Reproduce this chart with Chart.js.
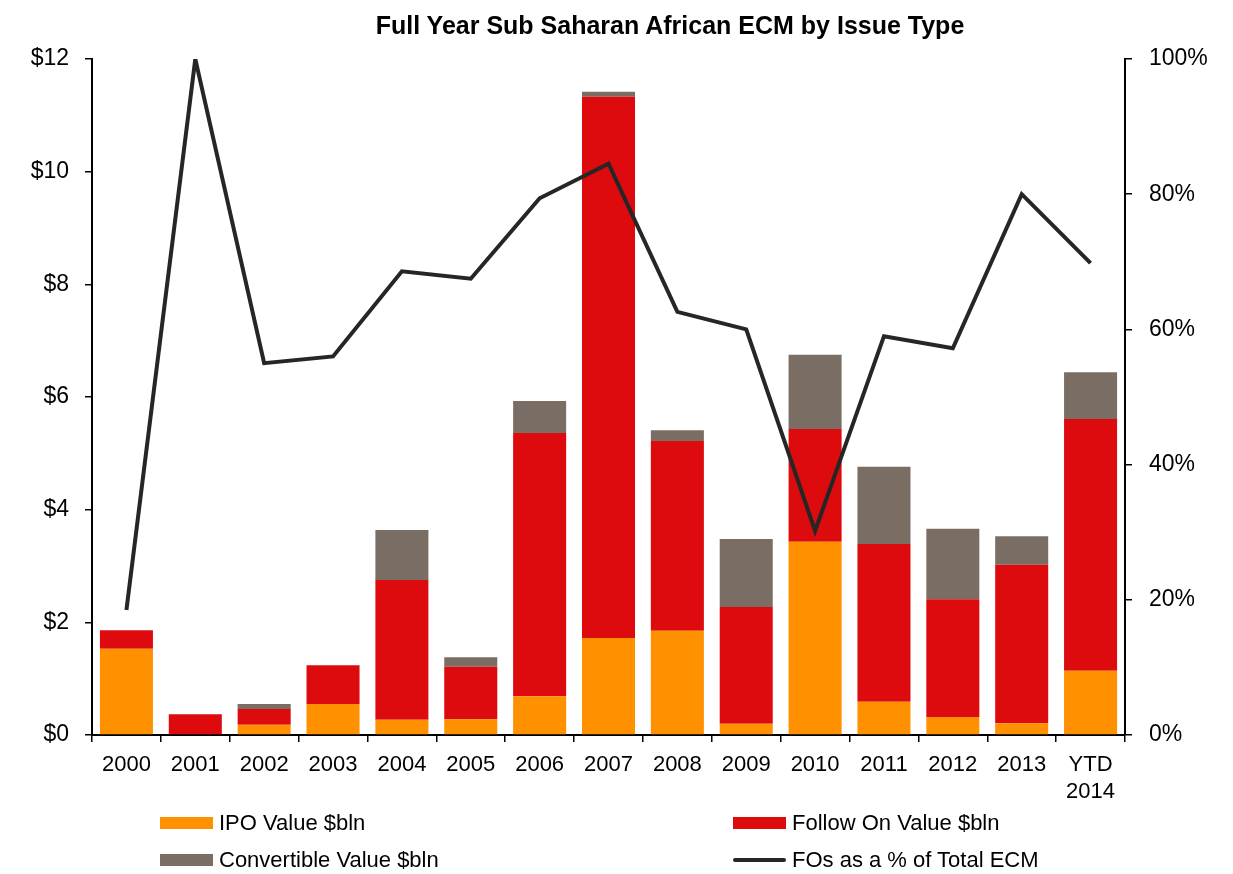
<!DOCTYPE html>
<html>
<head>
<meta charset="utf-8">
<script src="https://cdn.jsdelivr.net/npm/chart.js@4/dist/chart.umd.min.js"></script>
<style>
  body { margin: 0; background: #fff; font-family: "Liberation Sans", Arial, sans-serif; }
  #wrap { position: relative; width: 1233px; height: 874px; }
  #titulo { position: absolute; top: 11px; left: 0; width: 1340px; text-align: center; font-weight: bold; font-size: 25px; color: #000; }
  .ley { position: absolute; font-size: 22px; color: #000; display: flex; align-items: center; }
  .ley span.sw { display: inline-block; width: 53px; height: 12px; margin-right: 6px; }
  .ley span.ln { display: inline-block; width: 53px; height: 4px; margin-right: 6px; background: #262626; border-radius: 2px; }
</style>
</head>
<body>
<div id="wrap">
  <canvas id="grafico" width="1233" height="874"></canvas>
  <div id="titulo">Full Year Sub Saharan African ECM by Issue Type</div>
  <div class="ley" style="left:160px; top:810px;"><span class="sw" style="background:#FF9000"></span>IPO Value $bln</div>
  <div class="ley" style="left:733px; top:810px;"><span class="sw" style="background:#DD0A0E"></span>Follow On Value $bln</div>
  <div class="ley" style="left:160px; top:847px;"><span class="sw" style="background:#7A6E64"></span>Convertible Value $bln</div>
  <div class="ley" style="left:733px; top:847px;"><span class="ln"></span>FOs as a % of Total ECM</div>
</div>
<script>
// datos
const anios = ["2000", "2001", "2002", "2003", "2004", "2005", "2006", "2007", "2008", "2009", "2010", "2011", "2012", "2013", ["YTD", "2014"]];
const ipo = [1.53, 0.0, 0.18, 0.55, 0.27, 0.28, 0.69, 1.72, 1.85, 0.20, 3.43, 0.59, 0.32, 0.21, 1.14];
const followOn = [0.33, 0.37, 0.28, 0.69, 2.48, 0.93, 4.67, 9.61, 3.37, 2.07, 2.00, 2.80, 2.09, 2.81, 4.47];
const convertible = [0.0, 0.0, 0.09, 0.0, 0.89, 0.17, 0.57, 0.09, 0.19, 1.21, 1.32, 1.37, 1.25, 0.51, 0.83];
const porcentajeFO = [18.5, 100, 55, 56, 68.6, 67.5, 79.4, 84.5, 62.6, 60, 30.2, 59, 57.2, 80, 69.8];

Chart.defaults.font.family = '"Liberation Sans", Arial, sans-serif';
Chart.defaults.color = "#000";

const ctx = document.getElementById("grafico").getContext("2d");
new Chart(ctx, {
  type: "bar",
  data: {
    labels: anios,
    datasets: [
      {
        type: "line",
        label: "FOs as a % of Total ECM",
        data: porcentajeFO,
        yAxisID: "yPct",
        borderColor: "#262626",
        borderWidth: 4,
        pointRadius: 0,
        tension: 0,
        order: 0,
      },
      { label: "IPO Value $bln", data: ipo, backgroundColor: "#FF9000", yAxisID: "y", order: 1 },
      { label: "Follow On Value $bln", data: followOn, backgroundColor: "#DD0A0E", yAxisID: "y", order: 1 },
      { label: "Convertible Value $bln", data: convertible, backgroundColor: "#7A6E64", yAxisID: "y", order: 1 },
    ],
  },
  options: {
    responsive: false,
    animation: false,
    datasets: { bar: { categoryPercentage: 1, barPercentage: 0.77 } },
    layout: { padding: { top: 59, left: 0, right: 0, bottom: 0 } },
    plugins: { legend: { display: false }, tooltip: { enabled: false } },
    scales: {
      x: {
        stacked: true,
        grid: { drawOnChartArea: false, color: "#000", tickLength: 7, lineWidth: 1.5 },
        border: { color: "#000", width: 2 },
        ticks: { font: { size: 22 }, padding: 10, maxRotation: 0 },
        afterFit: (scale) => { scale.height = 139; },
      },
      y: {
        stacked: true,
        position: "left",
        min: 0,
        max: 12,
        grid: { drawOnChartArea: false, color: "#000", tickLength: 7, lineWidth: 1.5 },
        border: { color: "#000", width: 2 },
        ticks: { stepSize: 2, font: { size: 23 }, padding: 16, callback: (v) => "$" + v },
        afterFit: (scale) => { scale.width = 92; },
      },
      yPct: {
        position: "right",
        min: 0,
        max: 100,
        grid: { drawOnChartArea: false, color: "#000", tickLength: 7, lineWidth: 1.5 },
        border: { color: "#000", width: 2 },
        ticks: { stepSize: 20, font: { size: 23 }, padding: 17, callback: (v) => v + "%" },
        afterFit: (scale) => { scale.width = 108; },
      },
    },
  },
});
</script>
</body>
</html>
